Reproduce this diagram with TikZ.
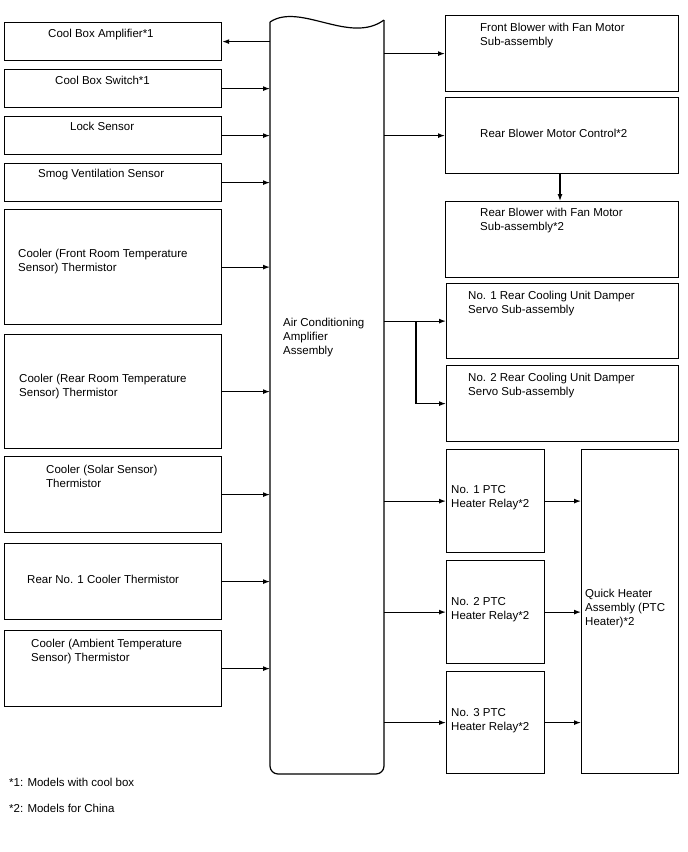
\documentclass[tikz,border=0pt]{standalone}
\usepackage{fontspec}
\setmainfont{Liberation Sans}
\usetikzlibrary{arrows.meta}
\begin{document}
\begin{tikzpicture}[x=1pt,y=-1pt,
  box/.style={draw, line width=1.2pt, inner sep=0pt, anchor=north west},
  lbl/.style={anchor=base west, inner sep=0pt, align=left, font=\fontsize{11.5}{14}\selectfont},
  arr/.style={line width=1.2pt, -{Latex[length=7pt,width=5pt]}}]
\useasboundingbox (0,0) rectangle (688,852);
% left boxes
\node[box, minimum width=217pt, minimum height=38pt] (amp) at (4,22) {};
\node[box, minimum width=217pt, minimum height=38pt] (sw) at (4,69) {};
\node[box, minimum width=217pt, minimum height=38pt] (lock) at (4,116) {};
\node[box, minimum width=217pt, minimum height=38pt] (smog) at (4,163) {};
\node[box, minimum width=217pt, minimum height=115pt] (front) at (4,209) {};
\node[box, minimum width=217pt, minimum height=114pt] (rear) at (4,334) {};
\node[box, minimum width=217pt, minimum height=76pt] (solar) at (4,456) {};
\node[box, minimum width=217pt, minimum height=76pt] (rno) at (4,543) {};
\node[box, minimum width=217pt, minimum height=76pt] (amb) at (4,630) {};
\node[lbl] (tamp) at (48,37) {Cool Box Amplifier*1};
\node[lbl] (tsw) at (55,84) {Cool Box Switch*1};
\node[lbl] (tlock) at (70,130) {Lock Sensor};
\node[lbl] (tsmog) at (38,177) {Smog Ventilation Sensor};
\node[lbl] (tfront) at (18,271) {Cooler (Front Room Temperature\\Sensor) Thermistor};
\node[lbl] (trear) at (19,396) {Cooler (Rear Room Temperature\\Sensor) Thermistor};
\node[lbl] (tsolar) at (46,487) {Cooler (Solar Sensor)\\Thermistor};
\node[lbl] (trno) at (27,583) {Rear No. 1 Cooler Thermistor};
\node[lbl] (tamb) at (31,661) {Cooler (Ambient Temperature\\Sensor) Thermistor};
% central block
\node[inner sep=0pt, minimum width=114pt, minimum height=754pt, anchor=north west] (aca) at (270,20) {};
\draw[line width=1.2pt, rounded corners=8pt] (270,22) -- (270,774) -- (384,774) -- (384,20);
\draw[line width=1.2pt] (384,20) .. controls (350,45) and (300,2) .. (270,22);
\node[lbl] (taca) at (283,354) {Air Conditioning\\Amplifier\\Assembly};
% right boxes
\node[box, minimum width=233pt, minimum height=76pt] (fb) at (445,15) {};
\node[box, minimum width=233pt, minimum height=76pt] (rbc) at (445,97) {};
\node[box, minimum width=233pt, minimum height=76pt] (rbf) at (445,201) {};
\node[box, minimum width=232pt, minimum height=75pt] (d1) at (446,283) {};
\node[box, minimum width=232pt, minimum height=76pt] (d2) at (446,365) {};
\node[box, minimum width=98pt, minimum height=103pt] (p1) at (446,449) {};
\node[box, minimum width=98pt, minimum height=103pt] (p2) at (446,560) {};
\node[box, minimum width=98pt, minimum height=102pt] (p3) at (446,671) {};
\node[box, minimum width=97pt, minimum height=324pt] (qh) at (581,449) {};
\node[lbl] (tfb) at (480,45) {Front Blower with Fan Motor\\Sub-assembly};
\node[lbl] (trbc) at (480,137) {Rear Blower Motor Control*2};
\node[lbl] (trbf) at (480,230) {Rear Blower with Fan Motor\\Sub-assembly*2};
\node[lbl] (td1) at (468,313) {No. 1 Rear Cooling Unit Damper\\Servo Sub-assembly};
\node[lbl] (td2) at (468,395) {No. 2 Rear Cooling Unit Damper\\Servo Sub-assembly};
\node[lbl] (tp1) at (451,507) {No. 1 PTC\\Heater Relay*2};
\node[lbl] (tp2) at (451,619) {No. 2 PTC\\Heater Relay*2};
\node[lbl] (tp3) at (451,730) {No. 3 PTC\\Heater Relay*2};
\node[lbl] (tqh) at (585,625) {Quick Heater\\Assembly (PTC\\Heater)*2};
% footnotes
\node[lbl] (n1) at (9,786) {*1: Models with cool box};
\node[lbl] (n2) at (9,812) {*2: Models for China};
% connectors
\draw[arr] (amp.east -| aca.west) -- (amp.east);
\foreach \b in {sw,lock,smog,front,rear,solar,rno,amb}
  \draw[arr] (\b.east) -- (\b.east -| aca.west);
\foreach \b in {fb,rbc,d1,p1,p2,p3}
  \draw[arr] (\b.west -| aca.east) -- (\b.west);
\draw[arr] (rbc.south -| 560,0) -- (rbf.north -| 560,0);
\coordinate (br) at (416,322);
\draw[arr] (br |- d1.west) |- (d2.west);
\foreach \b in {p1,p2,p3}
  \draw[arr] (\b.east) -- (\b.east -| qh.west);
\end{tikzpicture}
\end{document}
